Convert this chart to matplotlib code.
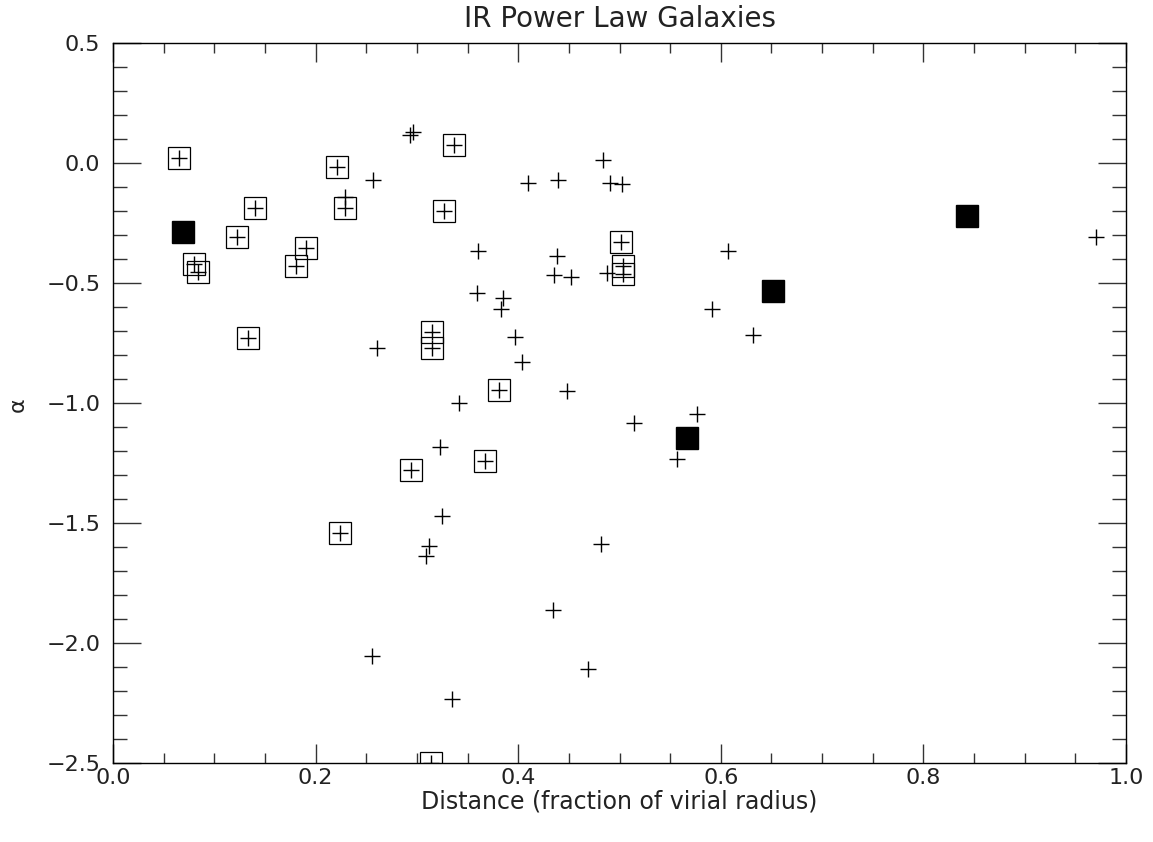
import matplotlib
matplotlib.use("Agg")
import matplotlib.pyplot as plt
from matplotlib.ticker import MultipleLocator, FuncFormatter

# plus-only galaxies (distance, alpha)
plus_x = [0.2290, 0.2932, 0.2958, 0.2564, 0.4100, 0.4388, 0.4834, 0.4906, 0.5022,
          0.3606, 0.4383, 0.4874, 0.4353, 0.4521, 0.3590, 0.3853, 0.3830, 0.3968,
          0.4041, 0.2603, 0.3419, 0.4485, 0.5146, 0.5768, 0.5565, 0.3228, 0.3251,
          0.3122, 0.3087, 0.4814, 0.4347, 0.2554, 0.4686, 0.3343, 0.6074, 0.5910,
          0.6313, 0.9704]
plus_y = [-0.142, 0.115, 0.129, -0.072, -0.086, -0.073, 0.011, -0.086, -0.090,
          -0.367, -0.389, -0.458, -0.468, -0.476, -0.544, -0.565, -0.611, -0.725,
          -0.829, -0.770, -1.003, -0.950, -1.083, -1.048, -1.235, -1.183, -1.470,
          -1.597, -1.639, -1.590, -1.864, -2.055, -2.110, -2.235, -0.366, -0.610,
          -0.718, -0.308]

# boxed galaxies (plus inside open square)
box_x = [0.0649, 0.1402, 0.1221, 0.0803, 0.0842, 0.2208, 0.2290, 0.1905, 0.1804,
         0.3369, 0.3268, 0.5010, 0.5038, 0.5032, 0.3146, 0.3146, 0.1330, 0.3806,
         0.3677, 0.2942, 0.2241, 0.3139]
box_y = [0.018, -0.190, -0.311, -0.423, -0.454, -0.017, -0.190, -0.357, -0.429,
         0.074, -0.200, -0.330, -0.430, -0.464, -0.705, -0.773, -0.732, -0.948,
         -1.242, -1.282, -1.544, -2.500]

# filled squares
fill_x = [0.0688, 0.5663, 0.6512, 0.8430]
fill_y = [-0.2875, -1.148, -0.535, -0.221]

title = "IR Power Law Galaxies"
xlabel = "Distance (fraction of virial radius)"
ylabel = "α"

plt.rcParams['font.family'] = ['DejaVu Sans']
fig = plt.figure(figsize=(11.53, 8.42), dpi=100)
ax = fig.add_axes([113/1153, 1-762.7/842, (1126-113)/1153, (762.7-42.7)/842])

ax.plot(box_x, box_y, linestyle='none', marker='s', markersize=16.5,
        markerfacecolor='none', markeredgecolor='black', markeredgewidth=0.9)
ax.plot(box_x + plus_x, box_y + plus_y, linestyle='none', marker='+',
        markersize=11, color='black', markeredgewidth=1.0)
ax.plot(fill_x, fill_y, linestyle='none', marker='s', markersize=16.5,
        color='black')

ax.set_xlim(0.0, 1.0)
ax.set_ylim(-2.5, 0.5)
ax.xaxis.set_major_locator(MultipleLocator(0.2))
ax.xaxis.set_minor_locator(MultipleLocator(0.05))
ax.yaxis.set_major_locator(MultipleLocator(0.5))
ax.yaxis.set_minor_locator(MultipleLocator(0.1))
fmt = FuncFormatter(lambda v, p: ("%.1f" % v).replace("-", "\u2212") if abs(v) > 1e-9 else "0.0")
ax.xaxis.set_major_formatter(fmt)
ax.yaxis.set_major_formatter(fmt)

ax.tick_params(axis='both', which='both', direction='in', top=True, right=True,
               labelsize=16, width=1.0, colors='#333333', labelcolor='#222222')
ax.tick_params(axis='x', which='major', length=14, pad=4)
ax.tick_params(axis='x', which='minor', length=7)
ax.tick_params(axis='y', which='major', length=20, pad=9)
ax.tick_params(axis='y', which='minor', length=10)
for s in ax.spines.values():
    s.set_linewidth(1.0)

ax.set_title(title, fontsize=20, pad=11, color='#222222')
ax.set_xlabel(xlabel, fontsize=17, labelpad=1, color='#222222')
fig.text(18/1153, 1-405/842, ylabel, fontsize=16, color='#222222',
         rotation=90, ha='center', va='center')

fig.savefig("out.png", dpi=100)
